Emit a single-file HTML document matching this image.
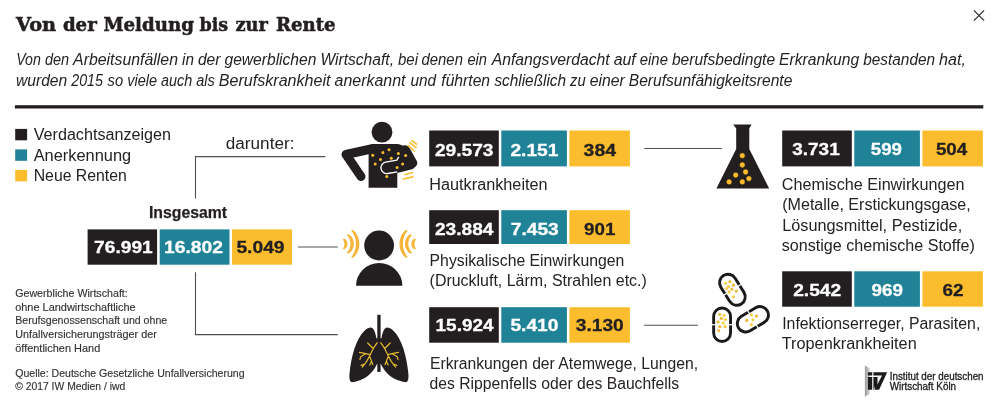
<!DOCTYPE html>
<html lang="de">
<head>
<meta charset="utf-8">
<title>Von der Meldung bis zur Rente</title>
<style>
html,body{margin:0;padding:0;background:#fff;}
body{width:996px;height:409px;overflow:hidden;}
svg{display:block;}
text{font-family:"Liberation Sans",sans-serif;fill:#262223;}
.t{font-family:"DejaVu Serif","Liberation Serif",serif;font-weight:bold;font-size:19px;fill:#231f20;stroke:#231f20;stroke-width:.55px;}
.s{font-style:italic;font-size:15.8px;}
.l{font-size:15.8px;}
.n{font-weight:bold;font-size:17.2px;fill:#231f20;stroke:#231f20;stroke-width:.3px;}
.w{fill:#fff;stroke:#fff;}
.b{font-weight:bold;font-size:16.2px;fill:#231f20;stroke:#231f20;stroke-width:.25px;}
.f{font-size:10.8px;fill:#333;stroke:#333;stroke-width:.15px;}
.g{font-size:10px;fill:#222;stroke:#222;stroke-width:.3px;}
.ln{stroke:#505050;stroke-width:1.1;fill:none;}
.k{fill:#231f20;}
.c{fill:#1f8297;}
.y{fill:#fbbd2e;}
</style>
</head>
<body>
<svg width="996" height="409" viewBox="0 0 996 409">
<rect width="996" height="409" fill="#fff"/>
<!-- header -->
<text class="t" y="30.9"><tspan x="16.0" textLength="40.1" lengthAdjust="spacingAndGlyphs">Von</tspan> <tspan x="62.9" textLength="33.9" lengthAdjust="spacingAndGlyphs">der</tspan> <tspan x="103.4" textLength="90.5" lengthAdjust="spacingAndGlyphs">Meldung</tspan> <tspan x="199.5" textLength="28.7" lengthAdjust="spacingAndGlyphs">bis</tspan> <tspan x="235.5" textLength="32.4" lengthAdjust="spacingAndGlyphs">zur</tspan> <tspan x="276.0" textLength="59.6" lengthAdjust="spacingAndGlyphs">Rente</tspan></text>
<text class="s" y="64.7"><tspan x="16.2" textLength="24.7" lengthAdjust="spacingAndGlyphs">Von</tspan> <tspan x="44.9" textLength="24.2" lengthAdjust="spacingAndGlyphs">den</tspan> <tspan x="73.1" textLength="104.9" lengthAdjust="spacingAndGlyphs">Arbeitsunfällen</tspan> <tspan x="182.0" textLength="11.9" lengthAdjust="spacingAndGlyphs">in</tspan> <tspan x="197.9" textLength="22.6" lengthAdjust="spacingAndGlyphs">der</tspan> <tspan x="224.5" textLength="91.9" lengthAdjust="spacingAndGlyphs">gewerblichen</tspan> <tspan x="320.4" textLength="73.6" lengthAdjust="spacingAndGlyphs">Wirtschaft,</tspan> <tspan x="398.0" textLength="20.0" lengthAdjust="spacingAndGlyphs">bei</tspan> <tspan x="421.6" textLength="41.3" lengthAdjust="spacingAndGlyphs">denen</tspan> <tspan x="467.4" textLength="19.6" lengthAdjust="spacingAndGlyphs">ein</tspan> <tspan x="491.7" textLength="118.0" lengthAdjust="spacingAndGlyphs">Anfangsverdacht</tspan> <tspan x="613.7" textLength="22.1" lengthAdjust="spacingAndGlyphs">auf</tspan> <tspan x="639.8" textLength="28.1" lengthAdjust="spacingAndGlyphs">eine</tspan> <tspan x="671.9" textLength="103.2" lengthAdjust="spacingAndGlyphs">berufsbedingte</tspan> <tspan x="779.1" textLength="80.1" lengthAdjust="spacingAndGlyphs">Erkrankung</tspan> <tspan x="863.2" textLength="71.9" lengthAdjust="spacingAndGlyphs">bestanden</tspan> <tspan x="939.1" textLength="26.9" lengthAdjust="spacingAndGlyphs">hat,</tspan></text>
<text class="s" y="86.0"><tspan x="16.0" textLength="51.2" lengthAdjust="spacingAndGlyphs">wurden</tspan> <tspan x="71.2" textLength="31.8" lengthAdjust="spacingAndGlyphs">2015</tspan> <tspan x="107.6" textLength="15.6" lengthAdjust="spacingAndGlyphs">so</tspan> <tspan x="127.2" textLength="29.9" lengthAdjust="spacingAndGlyphs">viele</tspan> <tspan x="161.1" textLength="31.2" lengthAdjust="spacingAndGlyphs">auch</tspan> <tspan x="196.3" textLength="18.5" lengthAdjust="spacingAndGlyphs">als</tspan> <tspan x="218.8" textLength="111.7" lengthAdjust="spacingAndGlyphs">Berufskrankheit</tspan> <tspan x="334.5" textLength="71.0" lengthAdjust="spacingAndGlyphs">anerkannt</tspan> <tspan x="410.5" textLength="25.6" lengthAdjust="spacingAndGlyphs">und</tspan> <tspan x="441.3" textLength="48.8" lengthAdjust="spacingAndGlyphs">führten</tspan> <tspan x="494.4" textLength="71.7" lengthAdjust="spacingAndGlyphs">schließlich</tspan> <tspan x="570.1" textLength="15.6" lengthAdjust="spacingAndGlyphs">zu</tspan> <tspan x="589.7" textLength="35.1" lengthAdjust="spacingAndGlyphs">einer</tspan> <tspan x="628.8" textLength="163.5" lengthAdjust="spacingAndGlyphs">Berufsunfähigkeitsrente</tspan></text>
<path d="M973.900 10.300L984.100 20.700M984.100 10.300L973.900 20.700" stroke="#231f20" stroke-width="1.100" fill="none"/>
<rect x="14.900" y="105.200" width="968.400" height="3.300" class="k"/>
<!-- legend -->
<rect x="15.2" y="128.9" width="11.9" height="11.4" class="k"/>
<rect x="15.2" y="149.4" width="11.9" height="11.4" class="c"/>
<rect x="15.2" y="170.0" width="11.9" height="11.4" class="y"/>
<text class="l" x="33.7" y="140.0" textLength="137.3" lengthAdjust="spacingAndGlyphs">Verdachtsanzeigen</text>
<text class="l" x="33.7" y="160.5" textLength="97.5" lengthAdjust="spacingAndGlyphs">Anerkennung</text>
<text class="l" x="33.7" y="181.1" textLength="93.1" lengthAdjust="spacingAndGlyphs">Neue Renten</text>
<text class="l" x="225.8" y="148.7" textLength="68.6" lengthAdjust="spacingAndGlyphs">darunter:</text>
<!-- connectors -->
<path class="ln" d="M325.400 156.600H195.500V198.400"/>
<path class="ln" d="M195.500 272.200V334.600H337.900"/>
<path class="ln" d="M298 247H337.800"/>
<path class="ln" d="M644.200 148.500H721.900"/>
<path class="ln" d="M644.100 325.200H697.900"/>
<!-- icon: skin -->
<g id="ic-skin">
<circle cx="382" cy="132.2" r="10.4" class="k"/>
<path class="k" d="M368.600 187.700V152L371 144H397C403 144.500 407.500 148 410 152L417.500 163L413 169L397.300 173V187.700Z"/>
<path d="M371 149L346 154.500L361 176.500" fill="none" stroke="#231f20" stroke-width="9" stroke-linecap="round" stroke-linejoin="round"/>
<path d="M405 150.500L412 163L386.500 167.800" fill="none" stroke="#231f20" stroke-width="10.400" stroke-linecap="round" stroke-linejoin="round"/>
<path d="M398.800 156.800L396.800 160.200L385.500 162.100A5.800 5.800 0 0 0 387.600 173.500L397.300 171.800" fill="none" stroke="#fff" stroke-width="1.300"/>
<g fill="#fbbd2e">
<circle cx="372.700" cy="155.300" r="1.500"/><circle cx="382.900" cy="152.400" r="1.500"/><circle cx="389" cy="149.700" r="1.500"/>
<circle cx="375.200" cy="164" r="1.500"/><circle cx="380.500" cy="159.500" r="1.500"/><circle cx="391.300" cy="158.300" r="1.500"/>
<circle cx="398.400" cy="153.600" r="1.500"/><circle cx="405.600" cy="155.600" r="1.500"/><circle cx="402.600" cy="164.100" r="1.500"/>
<circle cx="397.100" cy="167.600" r="1.500"/><circle cx="386.800" cy="176.500" r="1.500"/>
</g>
<path d="M407.600 145.100L414.800 151.500M409.400 142.400L416.600 147.800M411.500 140.300L417 144.500M404.400 174.800L412.900 172.600M402.600 179.300L413.400 176.600" stroke="#fbbd2e" stroke-width="1.600" fill="none"/>
</g>
<!-- icon: physical -->
<g id="ic-phys">
<circle cx="379.100" cy="245.500" r="14.900" class="k"/>
<path class="k" d="M356 285.800A23.200 22.800 0 0 1 402.400 285.800Z"/>
<g fill="#f6b53a">
<path d="M353.3 229.9 A18.9 18.9 0 0 1 353.3 257.7 L351.0 257.2 A20.8 20.8 0 0 0 351.0 230.4 Z"/>
<path d="M348.8 234.2 A11.6 11.6 0 0 1 348.8 253.4 L346.6 252.9 A12.6 12.6 0 0 0 346.6 234.7 Z"/>
<path d="M344.6 238.7 A6.3 6.3 0 0 1 344.6 249.3 L342.6 248.8 A7.0 7.0 0 0 0 342.6 239.2 Z"/>
<path d="M405.5 229.9 A18.9 18.9 0 0 0 405.5 257.7 L407.8 257.2 A20.8 20.8 0 0 1 407.8 230.4 Z"/>
<path d="M410.0 234.2 A11.6 11.6 0 0 0 410.0 253.4 L412.2 252.9 A12.6 12.6 0 0 1 412.2 234.7 Z"/>
<path d="M414.2 238.7 A6.3 6.3 0 0 0 414.2 249.3 L416.2 248.8 A7.0 7.0 0 0 1 416.2 239.2 Z"/>
</g>
</g>
<!-- icon: lungs -->
<g id="ic-lungs">
<rect x="377.300" y="314.800" width="3.300" height="57.100" class="k"/>
<path class="k" d="M370.7 327.5 C373.3 327.5 375.2 331.3 376.4 338.2 L379.2 338.6 L379.2 363.7 L377.1 363.7 C374.5 369.4 369.7 376.7 360.0 380.3 C356.2 381.6 353.5 382.2 352.0 382.2 C349.9 382.2 349.1 379.0 349.5 373.8 C350.9 357.6 355.8 338.6 365.0 330.2 C367.0 328.3 368.8 327.5 370.7 327.5 Z"/>
<path class="k" d="M387.2 327.5 C384.6 327.5 382.7 331.3 381.5 338.2 L378.7 338.6 L378.7 363.7 L380.8 363.7 C383.4 369.4 388.2 376.7 397.9 380.3 C401.7 381.6 404.4 382.2 405.9 382.2 C408.0 382.2 408.8 379.0 408.4 373.8 C407.0 357.6 402.1 338.6 392.9 330.2 C390.9 328.3 389.1 327.5 387.2 327.5 Z"/>
<path d="M377.2 342.7L373.1 348.7L370.1 355.1L366.7 361.4L362.3 367.1M373.2 348.5L367.7 343.0M370.2 354.6L364.8 353.4L359.4 352.4M365.5 353.8L360.7 356.7L359.9 359.7M365.0 364.0L361.0 365.4M369.9 357.0L371.6 361.2L372.8 364.6M371.6 361.2L369.7 365.0" fill="none" stroke="#e3ba2e" stroke-width="1.200" stroke-linecap="round" stroke-linejoin="round"/>
<path d="M380.7 342.7L384.8 348.7L387.8 355.1L391.2 361.4L395.6 367.1M384.7 348.5L390.2 343.0M387.7 354.6L393.1 353.4L398.5 352.4M392.4 353.8L397.2 356.7L398.0 359.7M392.9 364.0L396.9 365.4M388.0 357.0L386.3 361.2L385.1 364.6M386.3 361.2L388.2 365.0" fill="none" stroke="#e3ba2e" stroke-width="1.200" stroke-linecap="round" stroke-linejoin="round"/>
</g>
<!-- icon: flask -->
<g id="ic-flask">
<path class="k" d="M733.200 124.400H751.500L749.300 128.400V149L769.200 188.600H716.400L736.200 149V128.400Z"/>
<g fill="#fbbd2e" stroke="#e9a425" stroke-width=".5">
<circle cx="742.300" cy="155.700" r="2.400"/><circle cx="742.300" cy="165" r="2.400"/><circle cx="745.600" cy="172" r="2.400"/>
<circle cx="735.700" cy="175.100" r="2.400"/><circle cx="748.900" cy="178.600" r="2.400"/><circle cx="742.300" cy="181.900" r="2.400"/>
<circle cx="729.100" cy="181.900" r="2.400"/>
</g>
</g>
<!-- icon: pills -->
<g id="ic-pills">
<g transform="translate(732.400 289.800) rotate(-32)"><rect x="-8.450" y="-16.750" width="16.900" height="33.500" rx="8.450" fill="#fff" stroke="#1a1a1a" stroke-width="2.900"/><path d="M-11 0H11" stroke="#fff" stroke-width="1.200"/></g>
<g transform="translate(722.100 324.700)"><rect x="-8.450" y="-16.750" width="16.900" height="33.500" rx="8.450" fill="#fff" stroke="#1a1a1a" stroke-width="2.900"/><path d="M-11 0H11" stroke="#fff" stroke-width="1.200"/></g>
<g transform="translate(752.900 319.300) rotate(59)"><rect x="-8.450" y="-16.750" width="16.900" height="33.500" rx="8.450" fill="#fff" stroke="#1a1a1a" stroke-width="2.900"/><path d="M-11 0H11" stroke="#fff" stroke-width="1.200"/></g>
<circle cx="725.6" cy="283.3" r="1.600" fill="#f7d04a"/>
<circle cx="729.9" cy="281.7" r="1.600" fill="#e8b93c"/>
<circle cx="728.5" cy="286.6" r="1.600" fill="#f7d04a"/>
<circle cx="733.4" cy="285.2" r="1.600" fill="#e8b93c"/>
<circle cx="726.5" cy="288.5" r="1.600" fill="#f7d04a"/>
<circle cx="731.8" cy="289.1" r="1.600" fill="#e8b93c"/>
<circle cx="729.1" cy="291.9" r="1.600" fill="#f7d04a"/>
<circle cx="736.3" cy="291.1" r="1.600" fill="#e8b93c"/>
<circle cx="733.4" cy="296.9" r="1.600" fill="#f7d04a"/>
<circle cx="719.7" cy="314.3" r="1.600" fill="#e8b93c"/>
<circle cx="724.0" cy="315.3" r="1.600" fill="#f7d04a"/>
<circle cx="721.3" cy="318.4" r="1.600" fill="#e8b93c"/>
<circle cx="725.2" cy="319.6" r="1.600" fill="#f7d04a"/>
<circle cx="718.1" cy="322.0" r="1.600" fill="#e8b93c"/>
<circle cx="723.2" cy="323.1" r="1.600" fill="#f7d04a"/>
<circle cx="719.7" cy="326.7" r="1.600" fill="#e8b93c"/>
<circle cx="725.0" cy="326.7" r="1.600" fill="#f7d04a"/>
<circle cx="718.7" cy="330.6" r="1.600" fill="#e8b93c"/>
<circle cx="751.4" cy="314.9" r="1.600" fill="#f7d04a"/>
<circle cx="756.4" cy="316.1" r="1.600" fill="#e8b93c"/>
<circle cx="752.9" cy="319.8" r="1.600" fill="#f7d04a"/>
<circle cx="746.7" cy="320.4" r="1.600" fill="#e8b93c"/>
<circle cx="751.4" cy="324.7" r="1.600" fill="#f7d04a"/>
</g>
<!-- total -->
<text class="b" x="148.9" y="217.8" textLength="78.2" lengthAdjust="spacingAndGlyphs">Insgesamt</text>
<rect x="87.6" y="229.4" width="69.5" height="35.3" class="k"/>
<rect x="159.7" y="229.4" width="69.8" height="35.3" class="c"/>
<rect x="232.0" y="229.4" width="60.0" height="35.3" class="y"/>
<text class="n w" x="94.1" y="253.4" textLength="58.6" lengthAdjust="spacingAndGlyphs">76.991</text>
<text class="n w" x="164.0" y="253.4" textLength="58.9" lengthAdjust="spacingAndGlyphs">16.802</text>
<text class="n" x="236.4" y="253.4" textLength="48.2" lengthAdjust="spacingAndGlyphs">5.049</text>
<!-- row 1 -->
<rect x="429.2" y="130.5" width="69.6" height="35.9" class="k"/>
<rect x="501.3" y="130.5" width="65.6" height="35.9" class="c"/>
<rect x="569.4" y="130.5" width="60.5" height="35.9" class="y"/>
<text class="n w" x="434.9" y="155.5" textLength="58.6" lengthAdjust="spacingAndGlyphs">29.573</text>
<text class="n w" x="510.4" y="155.5" textLength="48.0" lengthAdjust="spacingAndGlyphs">2.151</text>
<text class="n" x="583.6" y="155.5" textLength="32.4" lengthAdjust="spacingAndGlyphs">384</text>
<!-- row 2 -->
<rect x="429.2" y="210.2" width="69.6" height="33.8" class="k"/>
<rect x="501.3" y="210.2" width="65.6" height="33.8" class="c"/>
<rect x="569.4" y="210.2" width="60.5" height="33.8" class="y"/>
<text class="n w" x="434.9" y="234.6" textLength="58.6" lengthAdjust="spacingAndGlyphs">23.884</text>
<text class="n w" x="510.8" y="234.6" textLength="48.0" lengthAdjust="spacingAndGlyphs">7.453</text>
<text class="n" x="584.0" y="234.6" textLength="31.4" lengthAdjust="spacingAndGlyphs">901</text>
<!-- row 3 -->
<rect x="429.2" y="307.2" width="69.6" height="35.5" class="k"/>
<rect x="501.3" y="307.2" width="65.6" height="35.5" class="c"/>
<rect x="569.4" y="307.2" width="60.5" height="35.5" class="y"/>
<text class="n w" x="435.6" y="331.0" textLength="57.9" lengthAdjust="spacingAndGlyphs">15.924</text>
<text class="n w" x="510.4" y="331.0" textLength="48.0" lengthAdjust="spacingAndGlyphs">5.410</text>
<text class="n" x="575.8" y="331.0" textLength="48.0" lengthAdjust="spacingAndGlyphs">3.130</text>
<text class="l" x="429.3" y="189.9" textLength="118.3" lengthAdjust="spacingAndGlyphs">Hautkrankheiten</text>
<text class="l" x="429.6" y="265.7" textLength="194.7" lengthAdjust="spacingAndGlyphs">Physikalische Einwirkungen</text>
<text class="l" x="429.6" y="285.9" textLength="217.2" lengthAdjust="spacingAndGlyphs">(Druckluft, Lärm, Strahlen etc.)</text>
<text class="l" x="430.0" y="368.7" textLength="268.0" lengthAdjust="spacingAndGlyphs">Erkrankungen der Atemwege, Lungen,</text>
<text class="l" x="429.6" y="388.7" textLength="249.5" lengthAdjust="spacingAndGlyphs">des Rippenfells oder des Bauchfells</text>
<!-- right row 1 -->
<rect x="782.2" y="130.5" width="69.6" height="35.9" class="k"/>
<rect x="854.3" y="130.5" width="65.6" height="35.9" class="c"/>
<rect x="922.4" y="130.5" width="60.5" height="35.9" class="y"/>
<text class="n w" x="792.2" y="155.3" textLength="47.5" lengthAdjust="spacingAndGlyphs">3.731</text>
<text class="n w" x="870.8" y="155.3" textLength="31.1" lengthAdjust="spacingAndGlyphs">599</text>
<text class="n" x="935.9" y="155.3" textLength="31.4" lengthAdjust="spacingAndGlyphs">504</text>
<!-- right row 2 -->
<rect x="782.2" y="271.3" width="69.6" height="35.4" class="k"/>
<rect x="854.3" y="271.3" width="65.6" height="35.4" class="c"/>
<rect x="922.4" y="271.3" width="60.5" height="35.4" class="y"/>
<text class="n w" x="793.2" y="295.5" textLength="48.0" lengthAdjust="spacingAndGlyphs">2.542</text>
<text class="n w" x="871.6" y="295.5" textLength="31.4" lengthAdjust="spacingAndGlyphs">969</text>
<text class="n" x="942.5" y="295.5" textLength="21.0" lengthAdjust="spacingAndGlyphs">62</text>
<text class="l" x="781.8" y="189.5" textLength="182.6" lengthAdjust="spacingAndGlyphs">Chemische Einwirkungen</text>
<text class="l" x="782.2" y="210.2" textLength="188.6" lengthAdjust="spacingAndGlyphs">(Metalle, Erstickungsgase,</text>
<text class="l" x="782.2" y="230.7" textLength="180.0" lengthAdjust="spacingAndGlyphs">Lösungsmittel, Pestizide,</text>
<text class="l" x="781.8" y="251.0" textLength="193.0" lengthAdjust="spacingAndGlyphs">sonstige chemische Stoffe)</text>
<text class="l" x="782.2" y="328.8" textLength="198.1" lengthAdjust="spacingAndGlyphs">Infektionserreger, Parasiten,</text>
<text class="l" x="781.8" y="348.9" textLength="134.9" lengthAdjust="spacingAndGlyphs">Tropenkrankheiten</text>
<!-- footnotes -->
<text class="f" x="15.2" y="296.9" textLength="112.6" lengthAdjust="spacingAndGlyphs">Gewerbliche Wirtschaft:</text>
<text class="f" x="15.2" y="310.9" textLength="120.5" lengthAdjust="spacingAndGlyphs">ohne Landwirtschaftliche</text>
<text class="f" x="15.2" y="324.4" textLength="152.0" lengthAdjust="spacingAndGlyphs">Berufsgenossenschaft und ohne</text>
<text class="f" x="15.2" y="338.2" textLength="141.6" lengthAdjust="spacingAndGlyphs">Unfallversicherungsträger der</text>
<text class="f" x="15.2" y="351.7" textLength="85.1" lengthAdjust="spacingAndGlyphs">öffentlichen Hand</text>
<text class="f" x="15.2" y="376.6" textLength="229.4" lengthAdjust="spacingAndGlyphs">Quelle: Deutsche Gesetzliche Unfallversicherung</text>
<text class="f" x="15.2" y="389.9" textLength="110.1" lengthAdjust="spacingAndGlyphs">© 2017 IW Medien / iwd</text>
<!-- logo -->
<defs><linearGradient id="lg" x1="0" x2="1" y1="0" y2="0"><stop offset="0" stop-color="#9a9a9a"/><stop offset="1" stop-color="#dadada"/></linearGradient></defs>
<path d="M864.900 365.400L869.800 368.300V393.700L864.900 396.700Z" fill="url(#lg)"/>
<path d="M867.9 372.2L872.2 372.2L872.2 375.4L867.9 375.4ZM867.9 376.9L872.2 376.9L872.2 389.8L867.9 389.8ZM873.4 372.2L887.2 372.2L879.1 389.8L873.4 389.8L873.4 376.9L877.5 376.9L877.5 384.5L881.2 376.9L882.0 375.4L873.4 375.4Z" fill="#1c1c1c"/>
<path d="M873.6 389.8L874.7 386.3L874.7 389.8Z" fill="#fff"/>
<!-- logo text -->
<text class="g" x="889.7" y="379.7" textLength="93.9" lengthAdjust="spacingAndGlyphs">Institut der deutschen</text>
<text class="g" x="889.7" y="389.5" textLength="66.4" lengthAdjust="spacingAndGlyphs">Wirtschaft Köln</text>
</svg>
</body>
</html>
